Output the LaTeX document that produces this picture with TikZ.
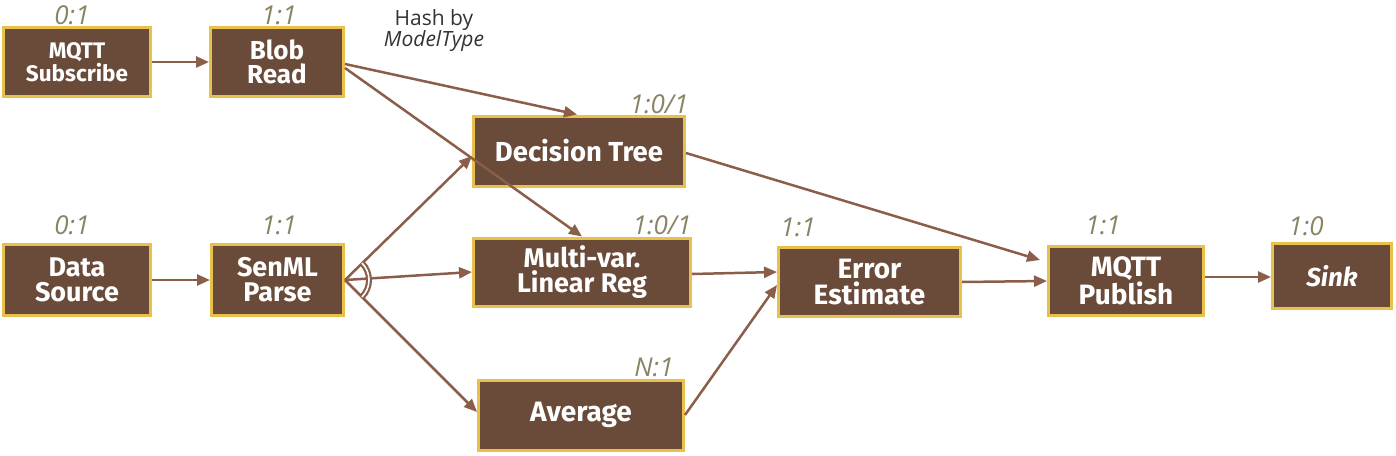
\documentclass[tikz,border=0pt]{standalone}
\usepackage{fontspec}
\setmainfont{Fira Sans}
\newfontfamily\labfont{Open Sans}
\usetikzlibrary{arrows.meta}
\definecolor{boxfill}{HTML}{6A4B3A}
\definecolor{boxedge}{HTML}{E9C04A}
\definecolor{edgecol}{HTML}{8A5E48}
\definecolor{labcol}{HTML}{8A8464}
\definecolor{hashcol}{HTML}{333333}
\newcommand{\bx}[1]{\bfseries\fontsize{#1}{#1}\selectfont\baselineskip=0.93\baselineskip}
\tikzset{
  opbox/.style={draw=boxedge, fill=boxfill, line width=3pt, text=white, align=center, inner sep=0pt},
  ratio/.style={text=labcol, font=\labfont\itshape\fontsize{26}{26}\selectfont, inner sep=0pt},
  flow/.style={draw=edgecol, line width=2.5pt, -{Triangle[length=13pt,width=11pt]}},
}
\begin{document}
\begin{tikzpicture}[x=1pt,y=-1pt]
\useasboundingbox (0,0) rectangle (1396,455);
% boxes
\node[opbox, minimum width=147pt, minimum height=69pt, font=\bx{22.5}] (sub) at (77,62) {MQTT\\Subscribe};
\node[opbox, minimum width=133pt, minimum height=69pt, font=\bx{26}] (blob) at (277,62) {Blob\\Read};
\node[opbox, minimum width=211pt, minimum height=70pt, font=\bx{27.5}] (dt) at (579,151) {Decision Tree};
\node[opbox, minimum width=147pt, minimum height=71pt, font=\bx{27}] (ds) at (77,280) {Data\\Source};
\node[opbox, minimum width=132pt, minimum height=71pt, font=\bx{27}] (senml) at (277.5,280) {SenML\\Parse};
\node[opbox, minimum width=217pt, minimum height=68pt, font=\bx{27}] (mv) at (582,272) {Multi-var.\\Linear Reg};
\node[opbox, minimum width=205pt, minimum height=70pt, font=\bx{28}] (avg) at (581,415) {Average};
\node[opbox, minimum width=182pt, minimum height=69pt, font=\bx{28}] (ee) at (869.5,282) {Error\\Estimate};
\node[opbox, minimum width=155pt, minimum height=69pt, font=\bx{28}] (pub) at (1126,281) {MQTT\\Publish};
\node[opbox, minimum width=119pt, minimum height=65pt, font=\bx{26}\itshape] (sink) at (1332,276) {Sink};
% ratio labels
\node[ratio] (l1) at (72,15) {0:1};
\node[ratio] (l2) at (279,15) {1:1};
\node[ratio] (l3) at (659,104) {1:0/1};
\node[ratio] (l4) at (662,225) {1:0/1};
\node[ratio] (l5) at (798,227) {1:1};
\node[ratio] (l6) at (654,367) {N:1};
\node[ratio] (l7) at (72,225) {0:1};
\node[ratio] (l8) at (279,225) {1:1};
\node[ratio] (l9) at (1103,225) {1:1};
\node[ratio] (l10) at (1306,226) {1:0};
\node[text=hashcol, font=\labfont\fontsize{21}{21}\selectfont, align=center, inner sep=0pt] (hash) at (434,31) {Hash by\\\itshape ModelType};
% edges
\draw[flow] (sub.east) -- (blob.west);
\draw[flow] (ds.east) -- (senml.west);
\draw[flow] ([yshift=-2pt]blob.east) -- ([xshift=-2pt]dt.north);
\draw[flow] ([yshift=-6pt]blob.east) -- (mv.north);
\draw[flow] (senml.east) -- ([yshift=-5pt]dt.west);
\draw[flow] (senml.east) -- (mv.west);
\draw[flow] (senml.east) -- ([yshift=3pt]avg.west);
\draw[flow] ([yshift=-2pt]dt.east) -- ([xshift=-7pt,yshift=21pt]pub.west);
\draw[flow] ([yshift=-2pt]mv.east) -- ([yshift=10pt]ee.west);
\draw[flow] (avg.east) -- ([yshift=-3pt]ee.west);
\draw[flow] (ee.east) -- (pub.west);
\draw[flow] ([yshift=4pt]pub.east) -- ([yshift=-1pt]sink.west);
% join arc
\draw[edgecol, line width=2.2pt, double=white, double distance=1.6pt] ([shift={(-45:24pt)}]senml.east) arc[start angle=-45, end angle=45, radius=24pt];
\end{tikzpicture}
\end{document}
